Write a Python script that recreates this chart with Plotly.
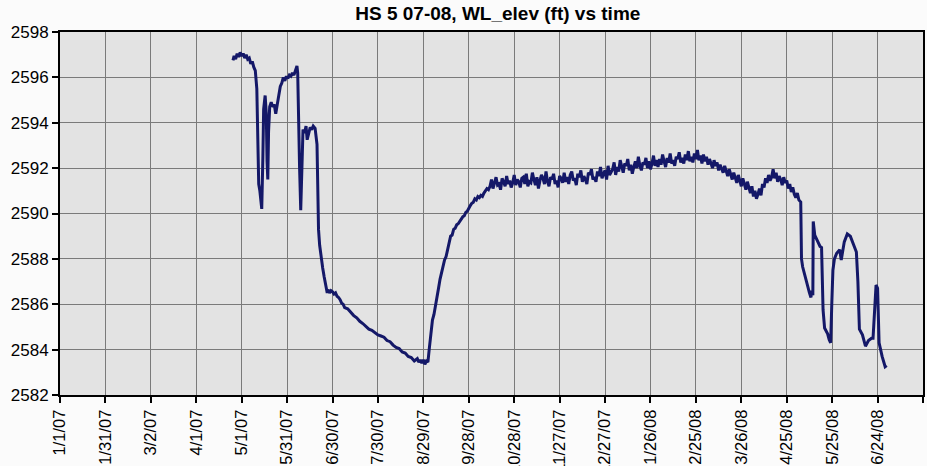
import pandas as pd
import plotly.graph_objects as go

# Water-level elevation (ft) at well HS 5, spring 2007 - summer 2008

# Spring 2007 pumping-test period (irregular readings)
spring_2007_times = [
    "2007-04-25 06:00", "2007-04-26", "2007-04-27", "2007-04-28", "2007-04-29",
    "2007-04-30", "2007-05-01", "2007-05-02", "2007-05-03", "2007-05-04",
    "2007-05-05", "2007-05-06", "2007-05-07", "2007-05-08", "2007-05-09",
    "2007-05-10", "2007-05-11 00:00", "2007-05-11 12:00", "2007-05-12 06:00",
    "2007-05-13", "2007-05-14 06:00", "2007-05-15 00:00", "2007-05-15 12:00",
    "2007-05-16 12:00", "2007-05-17 06:00", "2007-05-17 18:00", "2007-05-18 06:00",
    "2007-05-18 18:00", "2007-05-19 12:00", "2007-05-20 12:00", "2007-05-21 12:00",
    "2007-05-22 12:00", "2007-05-23 12:00", "2007-05-24 12:00", "2007-05-25 12:00",
    "2007-05-26 12:00", "2007-05-27 12:00", "2007-05-28 12:00", "2007-05-29 12:00",
    "2007-05-30 12:00", "2007-05-31 12:00", "2007-06-01 12:00", "2007-06-02 12:00",
    "2007-06-03 12:00", "2007-06-04 12:00", "2007-06-05 12:00", "2007-06-06 12:00",
    "2007-06-07 00:00", "2007-06-07 12:00", "2007-06-08 06:00", "2007-06-09 00:00",
    "2007-06-09 18:00", "2007-06-10 12:00", "2007-06-11 12:00", "2007-06-12 12:00",
    "2007-06-13 06:00", "2007-06-14 06:00", "2007-06-15 06:00", "2007-06-16 06:00",
    "2007-06-17 06:00", "2007-06-18 12:00", "2007-06-19 06:00", "2007-06-19 18:00",
    "2007-06-20 06:00", "2007-06-20 18:00", "2007-06-21 12:00", "2007-06-22 12:00",
    "2007-06-23 12:00", "2007-06-24 12:00", "2007-06-25 12:00", "2007-06-26 12:00",
]
spring_2007_levels = [
    2596.75, 2596.95, 2596.8, 2597.05, 2596.9,
    2597.1, 2596.95, 2597.05, 2596.85, 2597.0,
    2596.8, 2596.85, 2596.6, 2596.7, 2596.45,
    2596.3, 2595.5, 2593.0, 2591.3,
    2591.0, 2590.2, 2592.5, 2594.6,
    2595.2, 2594.4, 2592.3, 2591.5,
    2593.6, 2594.7, 2594.9, 2594.7,
    2594.8, 2594.4, 2594.8, 2595.3,
    2595.6, 2595.75, 2596.0, 2595.85,
    2596.05, 2595.95, 2596.1, 2596.05,
    2596.2, 2596.1, 2596.3, 2596.5,
    2596.2, 2594.0, 2592.0, 2590.15,
    2592.2, 2593.7, 2593.55, 2593.85,
    2593.25, 2593.6, 2593.8, 2593.7,
    2593.85, 2593.75, 2593.2, 2593.05,
    2591.2, 2589.3, 2588.6, 2588.0,
    2587.6, 2587.2, 2586.85, 2586.5,
]

# Summer 2007 recession and autumn recovery
recession_2007_dates = [
    "2007-06-27", "2007-06-28", "2007-06-29", "2007-06-30", "2007-07-01",
    "2007-07-02", "2007-07-03", "2007-07-04", "2007-07-05", "2007-07-06",
    "2007-07-07", "2007-07-08", "2007-07-10", "2007-07-12", "2007-07-14",
    "2007-07-16", "2007-07-18", "2007-07-20", "2007-07-22", "2007-07-24",
    "2007-07-26", "2007-07-28", "2007-07-30", "2007-08-01", "2007-08-03",
    "2007-08-05", "2007-08-07", "2007-08-09", "2007-08-11", "2007-08-13",
    "2007-08-15", "2007-08-17", "2007-08-19", "2007-08-21", "2007-08-23",
    "2007-08-25", "2007-08-26", "2007-08-27", "2007-08-28", "2007-08-29",
    "2007-08-30", "2007-08-31", "2007-09-01", "2007-09-02", "2007-09-03",
    "2007-09-04", "2007-09-05", "2007-09-06", "2007-09-07", "2007-09-08",
    "2007-09-09", "2007-09-10", "2007-09-11", "2007-09-12", "2007-09-13",
    "2007-09-14", "2007-09-15", "2007-09-16", "2007-09-17", "2007-09-18",
    "2007-09-19", "2007-09-20", "2007-09-21", "2007-09-22", "2007-09-23",
    "2007-09-24", "2007-09-25", "2007-09-26", "2007-09-27", "2007-09-28",
    "2007-09-29", "2007-09-30", "2007-10-01", "2007-10-02", "2007-10-03",
    "2007-10-04", "2007-10-05", "2007-10-06", "2007-10-07", "2007-10-08",
    "2007-10-09", "2007-10-10", "2007-10-11",
]
recession_2007_levels = [
    2586.65, 2586.5, 2586.6, 2586.55, 2586.45,
    2586.5, 2586.35, 2586.3, 2586.2, 2586.05,
    2586.0, 2585.85, 2585.8, 2585.65, 2585.5,
    2585.4, 2585.25, 2585.15, 2585.0, 2584.9,
    2584.85, 2584.75, 2584.65, 2584.6, 2584.55,
    2584.4, 2584.35, 2584.2, 2584.1, 2584.05,
    2583.9, 2583.85, 2583.7, 2583.65, 2583.5,
    2583.6, 2583.45, 2583.55, 2583.4, 2583.55,
    2583.35, 2583.5, 2583.45, 2584.1, 2584.8,
    2585.3, 2585.55, 2585.9, 2586.2, 2586.7,
    2587.1, 2587.4, 2587.75, 2587.95, 2588.1,
    2588.45, 2588.7, 2589.0, 2589.05, 2589.3,
    2589.35, 2589.5, 2589.55, 2589.65, 2589.8,
    2589.85, 2589.9, 2590.05, 2590.1, 2590.25,
    2590.35, 2590.45, 2590.5, 2590.65, 2590.6,
    2590.75, 2590.7, 2590.8, 2590.75, 2590.9,
    2591.0, 2591.1, 2591.05,
]

# Daily readings, 12 Oct 2007 - 3 May 2008
daily_start = "2007-10-12"
daily_levels = [
    # Oct 2007 (12-31)
    2591.2, 2591.5, 2591.1, 2591.35, 2591.6, 2591.25, 2591.3, 2591.05, 2591.55, 2591.4,
    2591.2, 2591.65, 2591.3, 2591.45, 2591.15, 2591.35, 2591.7, 2591.25, 2591.5, 2591.4,
    # Nov 2007
    2591.15, 2591.55, 2591.6, 2591.3, 2591.75, 2591.2, 2591.4, 2591.35, 2591.8, 2591.5,
    2591.25, 2591.6, 2591.1, 2591.45, 2591.7, 2591.55, 2591.3, 2591.85, 2591.4, 2591.2,
    2591.6, 2591.5, 2591.75, 2591.3, 2591.45, 2591.15, 2591.65, 2591.55, 2591.35, 2591.8,
    # Dec 2007
    2591.4, 2591.6, 2591.3, 2591.7, 2591.85, 2591.45, 2591.55, 2591.25, 2591.75, 2591.6,
    2591.9, 2591.4, 2591.65, 2591.5, 2591.3, 2591.8, 2591.7, 2591.95, 2591.5, 2591.6,
    2591.4, 2591.85, 2591.65, 2592.05, 2591.55, 2591.75, 2591.9, 2591.5, 2592.1, 2591.7,
    2591.85,
    # Jan 2008
    2591.95, 2592.25, 2591.7, 2592.05, 2591.85, 2592.35, 2592.0, 2591.8, 2592.2, 2592.1,
    2592.4, 2591.9, 2592.15, 2591.75, 2592.05, 2592.3, 2592.0, 2592.5, 2592.1, 2591.9,
    2592.25, 2592.15, 2592.45, 2592.0, 2592.3, 2591.95, 2592.2, 2592.55, 2592.1, 2592.35,
    2592.05,
    # Feb 2008
    2592.4, 2592.15, 2592.6, 2592.3, 2592.05, 2592.45, 2592.25, 2592.65, 2592.2, 2592.35,
    2592.1, 2592.5, 2592.4, 2592.7, 2592.25, 2592.45, 2592.2, 2592.6, 2592.35, 2592.75,
    2592.3, 2592.5, 2592.25, 2592.65, 2592.4, 2592.8, 2592.35, 2592.55, 2592.2,
    # Mar 2008
    2592.6, 2592.3, 2592.5, 2592.15, 2592.4, 2592.2, 2592.0, 2592.35, 2592.1, 2592.25,
    2591.9, 2592.15, 2592.0, 2591.8, 2592.1, 2591.85, 2591.65, 2591.95, 2591.7, 2591.5,
    2591.8, 2591.55, 2591.35, 2591.7, 2591.4, 2591.2, 2591.55, 2591.25, 2591.05, 2591.4,
    2591.15,
    # Apr 2008
    2590.9, 2591.2, 2590.75, 2591.0, 2590.65, 2590.85, 2591.1, 2590.8, 2591.3, 2591.15,
    2591.55, 2591.35, 2591.7, 2591.45, 2591.6, 2591.95, 2591.55, 2591.8, 2591.4, 2591.65,
    2591.5, 2591.25, 2591.6, 2591.35, 2591.45, 2591.1, 2591.3, 2590.95, 2591.15, 2590.85,
    # May 2008 (1-3)
    2590.7, 2590.9, 2590.6,
]

# Spring 2008 pumping cycles (irregular readings)
spring_2008_times = [
    "2008-05-04 06:00", "2008-05-04 18:00", "2008-05-05 12:00", "2008-05-07 12:00",
    "2008-05-08 12:00", "2008-05-10", "2008-05-11", "2008-05-11 12:00",
    "2008-05-12 06:00", "2008-05-12 12:00", "2008-05-13 12:00", "2008-05-15",
    "2008-05-17", "2008-05-18", "2008-05-18 18:00", "2008-05-19",
    "2008-05-20", "2008-05-22", "2008-05-23", "2008-05-24",
    "2008-05-24 18:00", "2008-05-25 12:00", "2008-05-26 12:00", "2008-05-28",
    "2008-05-30", "2008-05-31", "2008-06-02", "2008-06-04",
    "2008-06-06", "2008-06-08", "2008-06-10", "2008-06-11 00:00",
    "2008-06-11 12:00", "2008-06-12", "2008-06-14", "2008-06-16",
    "2008-06-18", "2008-06-20", "2008-06-21", "2008-06-22",
    "2008-06-23", "2008-06-24", "2008-06-25", "2008-06-27",
    "2008-06-29", "2008-06-30",
]
spring_2008_levels = [
    2590.5, 2588.0, 2587.65, 2587.1,
    2586.8, 2586.5, 2586.3, 2586.6,
    2586.4, 2589.65, 2589.05, 2588.8,
    2588.55, 2588.5, 2586.5, 2585.75,
    2584.95, 2584.7, 2584.45, 2584.3,
    2586.0, 2587.5, 2588.0, 2588.25,
    2588.4, 2587.95, 2588.75, 2589.1,
    2589.0, 2588.6, 2588.3, 2587.0,
    2586.0, 2584.9, 2584.65, 2584.15,
    2584.4, 2584.5, 2584.5, 2586.05,
    2586.85, 2586.7, 2584.3, 2583.7,
    2583.25, 2583.3,
]

# Assemble one continuous record
daily_dates = pd.date_range(daily_start, periods=len(daily_levels), freq="D")
times = (
    list(pd.to_datetime(spring_2007_times, format="ISO8601"))
    + list(pd.to_datetime(recession_2007_dates, format="ISO8601"))
    + list(daily_dates)
    + list(pd.to_datetime(spring_2008_times, format="ISO8601"))
)
levels = spring_2007_levels + recession_2007_levels + daily_levels + spring_2008_levels

# Axis settings
x_start, x_end = "2007-01-01", "2008-07-24"
y_min, y_max, y_step = 2582, 2598, 2
tick_days = 30

fig = go.Figure(
    go.Scatter(
        x=times,
        y=levels,
        mode="lines",
        line=dict(color="#141868", width=3),
        hoverinfo="x+y",
    )
)

font_family = "Liberation Sans, Arial, sans-serif"

fig.update_layout(
    width=927,
    height=466,
    margin=dict(l=60, r=4, t=32, b=71),
    paper_bgcolor="#fbfbfb",
    plot_bgcolor="#e3e3e3",
    showlegend=False,
    title=dict(
        text="<b>HS 5 07-08, WL_elev (ft) vs time</b>",
        x=0.537,
        xanchor="center",
        xref="container",
        yref="paper",
        y=1,
        yanchor="bottom",
        pad=dict(b=12),
        font=dict(family=font_family, size=19, color="#000000"),
    ),
    xaxis=dict(
        type="date",
        range=[x_start, x_end],
        tick0=x_start,
        dtick=tick_days * 86400000,
        tickformat="%-m/%-d/%y",
        tickangle=-90,
        tickfont=dict(family=font_family, size=16.5, color="#000000"),
        ticks="outside",
        ticklen=6,
        tickwidth=2,
        tickcolor="#000000",
        showgrid=True,
        gridcolor="#7a7a7a",
        gridwidth=1,
        showline=True,
        linecolor="#000000",
        linewidth=2,
        mirror=True,
        zeroline=False,
        automargin=False,
    ),
    yaxis=dict(
        range=[y_min, y_max],
        tick0=y_min,
        dtick=y_step,
        tickfont=dict(family=font_family, size=17, color="#000000"),
        ticks="outside",
        ticklen=6,
        tickwidth=2,
        tickcolor="#000000",
        showgrid=True,
        gridcolor="#7a7a7a",
        gridwidth=1,
        showline=True,
        linecolor="#000000",
        linewidth=2,
        mirror=True,
        zeroline=False,
        automargin=False,
    ),
)

fig.write_html("out.html")
